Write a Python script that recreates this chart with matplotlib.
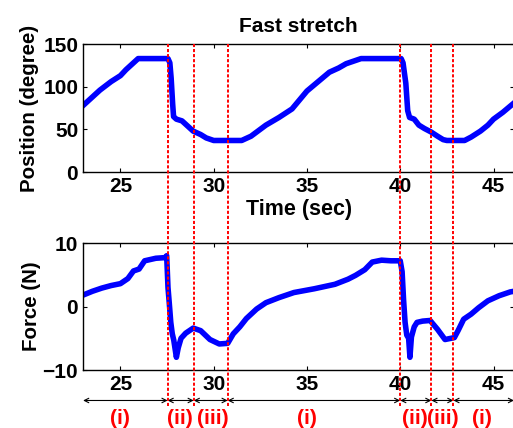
import matplotlib
matplotlib.use("Agg")
import matplotlib.pyplot as plt
import matplotlib.transforms as mtransforms

plt.rcParams['font.family'] = ['Liberation Sans', 'DejaVu Sans']
plt.rcParams['font.weight'] = 'bold'

# position trace (degree) vs time (sec)
pos_t = [23.0, 23.4, 23.9, 24.5, 25.0, 25.3, 25.6, 25.95, 27.55, 27.65, 27.72, 27.8, 27.85,
         28.0, 28.3, 28.6, 28.9, 29.3, 29.6, 30.0, 31.5, 32.0, 32.8, 33.5, 34.2, 35.0,
         35.6, 36.2, 36.7, 37.1, 37.5, 37.9, 40.05, 40.15, 40.3, 40.4, 40.5, 40.75, 41.0,
         41.3, 41.65, 42.0, 42.3, 42.5, 43.45, 43.8, 44.3, 44.7, 45.0, 45.5, 46.1]
pos_v = [78, 86, 96, 106, 113, 120, 126, 133, 133, 128, 110, 80, 65,
         62, 60, 54, 48, 44, 40, 37, 37, 42, 55, 64, 74, 95,
         106, 117, 122, 127, 130, 133, 133, 128, 104, 72, 64, 62, 55,
         51, 47, 42, 38, 37, 37, 41, 48, 55, 62, 70, 81]

# force trace (N) vs time (sec)
frc_t = [23.0, 23.5, 24.0, 24.5, 25.0, 25.4, 25.7, 26.0, 26.3, 26.9, 27.4, 27.48, 27.55, 27.62,
         27.7, 27.78, 27.86, 28.0, 28.1, 28.25, 28.5, 28.9, 29.3, 29.8, 30.3, 30.75, 31.05,
         31.4, 31.75, 32.3, 32.8, 33.5, 34.3, 35.4, 36.5, 37.2, 37.6, 38.1, 38.5, 39.0, 39.5,
         40.0, 40.1, 40.18, 40.26, 40.35, 40.45, 40.52, 40.6, 40.75, 40.9, 41.2, 41.6, 42.0,
         42.4, 42.9, 43.1, 43.4, 43.8, 44.2, 44.7, 45.3, 45.9, 46.1]
frc_v = [1.8, 2.4, 2.9, 3.3, 3.6, 4.4, 5.6, 5.9, 7.2, 7.6, 7.7, 8.0, 3.0, 0.5,
         -2.5, -4.3, -5.3, -8.0, -6.5, -5.0, -4.2, -3.4, -3.8, -5.2, -5.9, -5.8, -4.3,
         -3.2, -1.9, -0.4, 0.6, 1.4, 2.2, 2.8, 3.5, 4.3, 4.9, 5.8, 7.0, 7.3, 7.2,
         7.2, 5.5, 1.0, -2.5, -4.5, -5.0, -8.0, -4.8, -3.2, -2.5, -2.3, -2.2, -3.6,
         -5.2, -4.9, -3.8, -2.0, -1.2, -0.2, 0.9, 1.7, 2.3, 2.4]

# phase boundaries (sec) and phase labels
bounds = [27.53, 28.93, 30.75, 40.0, 41.67, 42.85]
phase_edges = [23.0, 27.53, 28.93, 30.75, 40.0, 41.67, 42.85, 46.1]
phase_labels = ['(i)', '(ii)', '(iii)', '(i)', '(ii)', '(iii)', '(i)']
label_x = [25.0, 28.2, 29.97, 35.0, 40.8, 42.3, 44.4]

fig = plt.figure(figsize=(5.13, 4.28), dpi=100)
ax1 = fig.add_axes([0.162, 0.598, 0.84, 0.299])
ax2 = fig.add_axes([0.162, 0.1355, 0.84, 0.2967])

ax1.plot(pos_t, pos_v, color='#0000ff', lw=4)
ax1.set_xlim(23, 46.1)
ax1.set_ylim(0, 150)
ax1.set_yticks([0, 50, 100, 150])
ax1.set_xticks([25, 30, 35, 40, 45])
ax1.set_ylabel('Position (degree)', fontsize=14.8, fontweight='bold', labelpad=3)
ax1.set_xlabel('Time (sec)', fontsize=15.5, fontweight='bold', labelpad=2)
ax1.set_title('Fast stretch', fontsize=15, fontweight='bold', pad=9)

ax2.plot(frc_t, frc_v, color='#0000ff', lw=4)
ax2.set_xlim(23, 46.1)
ax2.set_ylim(-10, 10)
ax2.set_yticks([-10, 0, 10])
ax2.set_xticks([25, 30, 35, 40, 45])
ax2.set_ylabel('Force (N)', fontsize=14.8, fontweight='bold', labelpad=1)

for ax in (ax1, ax2):
    ax.tick_params(direction='in', top=True, right=True, labelsize=15, length=3, width=0.8)
    for lab in ax.get_xticklabels() + ax.get_yticklabels():
        lab.set_fontweight('bold')
    for sp in ax.spines.values():
        sp.set_linewidth(1.0)

# red dotted phase boundaries spanning both panels
trans = mtransforms.blended_transform_factory(ax2.transData, ax2.transAxes)
for b in bounds:
    ax2.plot([b, b], [-0.28, 2.567], transform=trans, color='red', lw=1.4,
             linestyle=(0, (1.6, 1.0)), clip_on=False, zorder=5)

# phase arrows and labels
for i in range(len(phase_labels)):
    ax2.annotate('', xy=(phase_edges[i + 1], -0.24), xytext=(phase_edges[i], -0.24),
                 xycoords=trans, textcoords=trans,
                 arrowprops=dict(arrowstyle='<->', color='black', lw=0.8,
                                 shrinkA=0, shrinkB=0, mutation_scale=8),
                 annotation_clip=False)
    ax2.text(label_x[i], -0.38, phase_labels[i], transform=trans, color='red',
             fontsize=15, fontweight='bold', ha='center', va='center')

fig.savefig('out.png', dpi=100)
